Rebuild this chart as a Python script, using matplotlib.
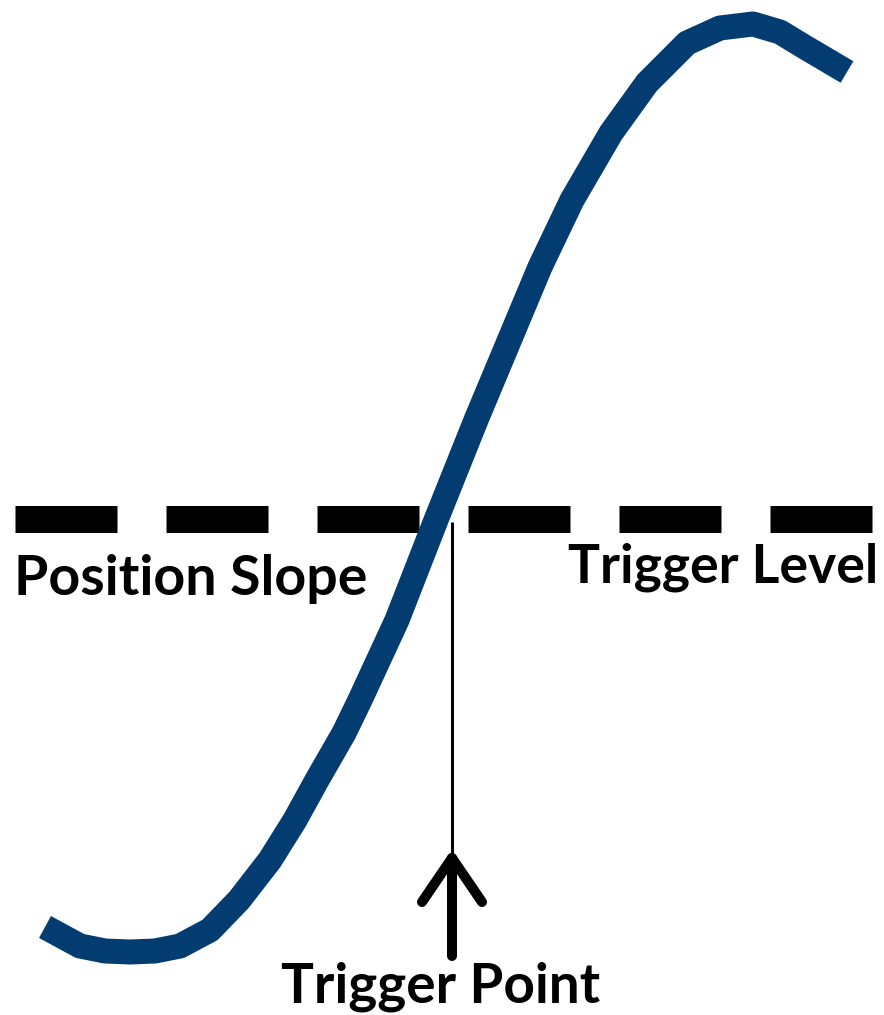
"""
Диаграмма точки срабатывания триггера (положительный фронт)
"""
import matplotlib
matplotlib.use('Agg')
import matplotlib.pyplot as plt

# Точки кривой сигнала (пиксели, y вниз)
curve_x = [45, 80, 105, 130, 155, 180, 210, 239, 270, 295, 317, 344, 360, 397, 436, 476,
           540, 572, 611, 647, 687, 720, 753, 780, 803, 847]
curve_y = [927, 946, 951, 952, 951, 946, 930, 900, 860, 820, 780, 733, 700, 620, 520, 420,
           267, 200, 133, 83, 43, 28, 24, 32, 46, 72]

# Уровень триггера и точка срабатывания
level_x = [15, 874]
level_y = 518.5
trigger_x = 452
trigger_top = 522
arrow_tip = 858
arrow_bottom = 956
wing_dx = 30
wing_dy = 44

labels = ['Position Slope', 'Trigger Level', 'Trigger Point']

plt.rcParams['lines.scale_dashes'] = False
plt.rcParams['font.family'] = ['Lato', 'DejaVu Sans']

fig = plt.figure(figsize=(8.84, 10.15), dpi=100)
ax = fig.add_axes([0, 0, 1, 1])
ax.set_xlim(0, 884)
ax.set_ylim(1015, 0)
ax.axis('off')

px = 72 / 100  # пиксели -> пункты

# Пунктир уровня
ax.plot(level_x, [level_y, level_y], color='black', linewidth=27 * px,
        dashes=(102 * px, 49 * px), dash_capstyle='butt', zorder=1)

# Кривая
ax.plot(curve_x, curve_y, color='#033C71', linewidth=25 * px,
        solid_capstyle='butt', solid_joinstyle='round', zorder=2)

# Тонкая вертикаль к точке срабатывания
ax.plot([trigger_x, trigger_x], [trigger_top, arrow_tip], color='black',
        linewidth=3 * px, solid_capstyle='butt', zorder=3)

# Стрелка
ax.plot([trigger_x, trigger_x], [arrow_tip, arrow_bottom], color='black',
        linewidth=10 * px, solid_capstyle='round', zorder=3)
ax.plot([trigger_x - wing_dx, trigger_x, trigger_x + wing_dx],
        [arrow_tip + wing_dy, arrow_tip, arrow_tip + wing_dy], color='black',
        linewidth=10 * px, solid_capstyle='round', solid_joinstyle='round', zorder=3)

# Подписи
ax.text(14, 595, labels[0], fontsize=40, fontweight='bold', ha='left', va='baseline')
ax.text(568, 583, labels[1], fontsize=38.5, fontweight='bold', ha='left', va='baseline')
ax.text(281, 1002, labels[2], fontsize=39.5, fontweight='bold', ha='left', va='baseline')

fig.savefig('out.png', dpi=100)
plt.close(fig)
